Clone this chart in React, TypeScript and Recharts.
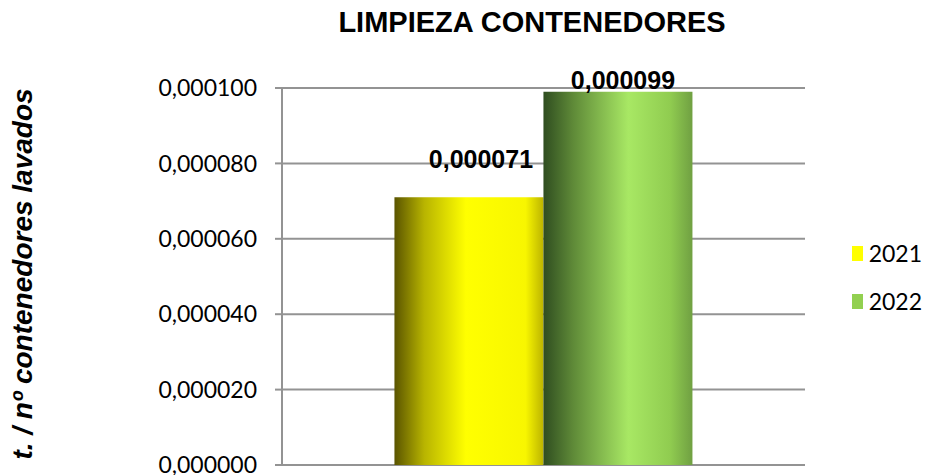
import { BarChart, Bar, XAxis, YAxis, CartesianGrid, Legend, LabelList } from 'recharts'

const categories = ['Limpieza']
const values2021 = [0.000071]
const values2022 = [0.000099]
const yTicks = [0, 0.00002, 0.00004, 0.00006, 0.00008, 0.0001]
const seriesNames = ['2021', '2022']

const data = categories.map((name, i) => ({ name, y2021: values2021[i], y2022: values2022[i] }))

const fmt = (v: number) => Number(v).toFixed(6).replace('.', ',')

const makeLabel = (dx: number, offset: number) => (props: any) => {
  const { x, y, width, value } = props
  return (
    <text
      x={Number(x) + Number(width) / 2 + dx}
      y={Number(y) - offset}
      textAnchor="middle"
      fontFamily="'Liberation Sans', Arial, sans-serif"
      fontWeight="bold"
      fontSize={25}
      fill="#000"
    >
      {fmt(value)}
    </text>
  )
}

const legendColors = ['#ffff00', '#92d050']

function LegendBox() {
  return (
    <div style={{ fontFamily: 'Lato, sans-serif', fontSize: 23, color: '#000', lineHeight: '23px' }}>
      {seriesNames.map((s, i) => (
        <div key={s} style={{ display: 'flex', alignItems: 'center', height: 24, marginBottom: 24 }}>
          <span style={{ width: 15, height: 15, background: legendColors[i], display: 'inline-block', marginRight: 6 }} />
          <span>{s}</span>
        </div>
      ))}
    </div>
  )
}

export default function App() {
  return (
    <div style={{ position: 'absolute', left: 0, top: 0, width: 929, height: 475, background: '#fff', overflow: 'hidden' }}>
      <BarChart
        width={929}
        height={475}
        data={data}
        margin={{ top: 88, right: 54, left: 132, bottom: 10 }}
        barCategoryGap="21.5%"
        barGap={0}
        style={{ position: 'absolute', left: 0, top: 0 }}
      >
        <defs>
          <linearGradient id="gYellow" x1="0" y1="0" x2="1" y2="0">
            <stop offset="0%" stopColor="#5a5400" />
            <stop offset="20%" stopColor="#b8b400" />
            <stop offset="48%" stopColor="#ffff00" />
            <stop offset="88%" stopColor="#f8f600" />
            <stop offset="100%" stopColor="#bcb400" />
          </linearGradient>
          <linearGradient id="gGreen" x1="0" y1="0" x2="1" y2="0">
            <stop offset="0%" stopColor="#2f4d20" />
            <stop offset="20%" stopColor="#5f8a38" />
            <stop offset="57%" stopColor="#a8e864" />
            <stop offset="85%" stopColor="#90cc50" />
            <stop offset="100%" stopColor="#70a042" />
          </linearGradient>
        </defs>
        <CartesianGrid vertical={false} stroke="#939393" strokeWidth={2} />
        <XAxis dataKey="name" hide height={0} />
        <YAxis
          width={150}
          domain={[0, 0.0001]}
          ticks={yTicks}
          tickFormatter={fmt}
          tickSize={7}
          tickMargin={18}
          interval={0}
          axisLine={{ stroke: '#939393', strokeWidth: 2 }}
          tickLine={{ stroke: '#939393', strokeWidth: 2 }}
          tick={{ fill: '#000', fontFamily: 'Lato, sans-serif', fontSize: 23 }}
        />
        <Legend
          layout="vertical"
          align="right"
          verticalAlign="top"
          content={() => <LegendBox />}
          wrapperStyle={{ position: 'absolute', left: 852, top: 241, width: 70 }}
        />
        <Bar dataKey="y2021" name={seriesNames[0]} fill="url(#gYellow)" isAnimationActive={false}>
          <LabelList dataKey="y2021" content={makeLabel(12, 29)} />
        </Bar>
        <Bar dataKey="y2022" name={seriesNames[1]} fill="url(#gGreen)" isAnimationActive={false}>
          <LabelList dataKey="y2022" content={makeLabel(5, 3)} />
        </Bar>
      </BarChart>
      <svg width={929} height={475} style={{ position: 'absolute', left: 0, top: 0, pointerEvents: 'none' }}>
        <text x={532} y={32} textAnchor="middle" fontFamily="'Liberation Sans', Arial, sans-serif" fontWeight="bold" fontSize={29}>
          LIMPIEZA CONTENEDORES
        </text>
        <text
          transform="translate(32, 274) rotate(-90)"
          textAnchor="middle"
          fontFamily="'Liberation Sans', Arial, sans-serif"
          fontWeight="bold"
          fontStyle="italic"
          fontSize={28}
        >
          t. / nº contenedores lavados
        </text>
      </svg>
    </div>
  )
}
